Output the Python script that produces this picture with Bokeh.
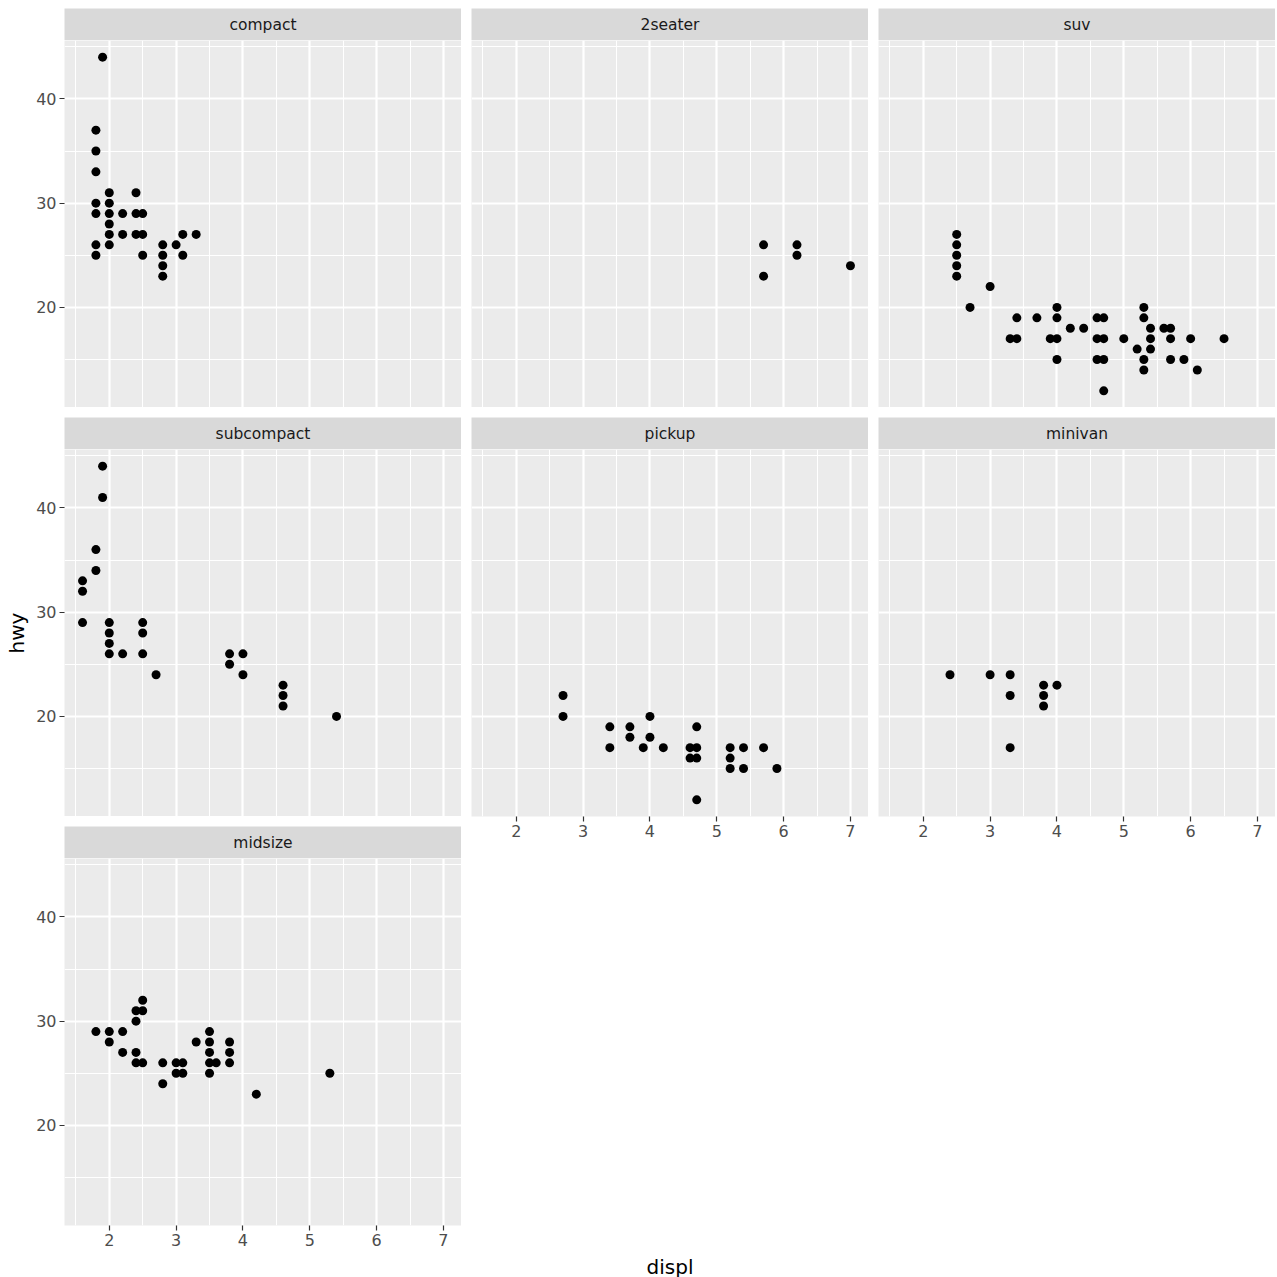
from bokeh.plotting import figure
from bokeh.layouts import row, column
from bokeh.models import Range1d, FixedTicker, Spacer
from bokeh.core.properties import value
from bokeh.embed import file_html
from bokeh.resources import INLINE

# ---------------- data (class facets of displ vs hwy) ----------------
compact_displ = [1.9, 1.8, 1.8, 1.8, 1.8, 1.8, 1.8, 1.8,
                 2.0, 2.0, 2.0, 2.0, 2.0, 2.0, 2.2, 2.2,
                 2.4, 2.4, 2.4, 2.5, 2.5, 2.5,
                 2.8, 2.8, 2.8, 2.8, 3.0, 3.1, 3.1, 3.3]
compact_hwy = [44, 37, 35, 33, 30, 29, 26, 25,
               31, 30, 29, 28, 27, 26, 29, 27,
               31, 29, 27, 29, 27, 25,
               26, 25, 24, 23, 26, 27, 25, 27]

twoseater_displ = [5.7, 5.7, 6.2, 6.2, 7.0]
twoseater_hwy = [26, 23, 26, 25, 24]

suv_displ = [2.5, 2.5, 2.5, 2.5, 2.5, 2.7, 3.0, 3.3, 3.4, 3.4, 3.7,
             3.9, 4.0, 4.0, 4.0, 4.0, 4.2, 4.4,
             4.6, 4.7, 4.6, 4.7, 4.6, 4.7, 4.7, 5.0, 5.2,
             5.3, 5.3, 5.3, 5.3, 5.4, 5.4, 5.4,
             5.6, 5.7, 5.7, 5.7, 5.9, 6.0, 6.1, 6.5]
suv_hwy = [27, 26, 25, 24, 23, 20, 22, 17, 17, 19, 19,
           17, 17, 20, 19, 15, 18, 18,
           19, 19, 17, 17, 15, 15, 12, 17, 16,
           20, 19, 15, 14, 18, 17, 16,
           18, 18, 17, 15, 15, 17, 14, 17]

subcompact_displ = [1.9, 1.9, 1.8, 1.8, 1.6, 1.6, 1.6,
                    2.0, 2.0, 2.0, 2.0, 2.2, 2.5, 2.5, 2.5, 2.7,
                    3.8, 3.8, 4.0, 4.0, 4.6, 4.6, 4.6, 5.4]
subcompact_hwy = [44, 41, 36, 34, 33, 32, 29,
                  29, 28, 27, 26, 26, 29, 28, 26, 24,
                  26, 25, 26, 24, 23, 22, 21, 20]

pickup_displ = [2.7, 2.7, 3.4, 3.4, 3.7, 3.7, 3.9, 4.0, 4.0, 4.2,
                4.6, 4.6, 4.7, 4.7, 4.7, 4.7,
                5.2, 5.2, 5.2, 5.4, 5.4, 5.7, 5.9]
pickup_hwy = [22, 20, 19, 17, 19, 18, 17, 20, 18, 17,
              17, 16, 19, 17, 16, 12,
              17, 16, 15, 17, 15, 17, 15]

minivan_displ = [2.4, 3.0, 3.3, 3.3, 3.3, 3.8, 3.8, 3.8, 4.0]
minivan_hwy = [24, 24, 24, 22, 17, 23, 22, 21, 23]

midsize_displ = [1.8, 2.0, 2.0, 2.2, 2.2, 2.4, 2.4, 2.4, 2.4, 2.5, 2.5, 2.5,
                 2.8, 2.8, 3.0, 3.0, 3.1, 3.1, 3.3,
                 3.5, 3.5, 3.5, 3.5, 3.5, 3.6, 3.8, 3.8, 3.8, 4.2, 5.3]
midsize_hwy = [29, 29, 28, 29, 27, 31, 30, 27, 26, 32, 31, 26,
               26, 24, 26, 25, 26, 25, 28,
               29, 28, 27, 26, 25, 26, 28, 27, 26, 23, 25]

x_ticks = [2, 3, 4, 5, 6, 7]
x_minor = [1.5, 2.5, 3.5, 4.5, 5.5, 6.5]
y_ticks = [20, 30, 40]
y_minor = [15, 25, 35, 45]
x_lim = (1.33, 7.27)
y_lim = (10.4, 45.6)

# ---------------- layout constants ----------------
TOP = 8
PW, PH, SH, GAP, CGAP = 397, 367, 32, 10, 10
YAX, XAXB, YT_W = 32, 26, 32
XT_H = 26
FONT = "DejaVu Sans"


def strip(label, left_pad):
    s = figure(frame_width=PW, frame_height=SH, x_range=Range1d(0, 1), y_range=Range1d(0, 1),
               x_axis_location=None, y_axis_location=None, toolbar_location=None,
               output_backend="svg", min_border_left=left_pad, min_border_right=0,
               min_border_top=0, min_border_bottom=0, background_fill_color="#D9D9D9",
               border_fill_color="white", outline_line_color=None)
    s.xgrid.visible = False
    s.ygrid.visible = False
    s.text(x=[0.5], y=[0.5], text=[label], text_align="center", text_baseline="middle",
           text_font=value(FONT), text_font_size="15.5px", text_color="#1A1A1A")
    return s


def panel(xs, ys, left_axis, bottom_axis):
    p = figure(frame_width=PW, frame_height=PH, x_range=Range1d(*x_lim), y_range=Range1d(*y_lim),
               x_axis_location="below" if bottom_axis else None,
               y_axis_location="left" if left_axis else None,
               toolbar_location=None, output_backend="svg",
               min_border_left=YAX if left_axis else 0, min_border_right=0, min_border_top=0,
               min_border_bottom=XAXB if bottom_axis else 0,
               background_fill_color="#EBEBEB", border_fill_color="white", outline_line_color=None)
    p.xgrid.ticker = FixedTicker(ticks=x_ticks, minor_ticks=x_minor)
    p.ygrid.ticker = FixedTicker(ticks=y_ticks, minor_ticks=y_minor)
    for g in (p.xgrid, p.ygrid):
        g.grid_line_color = "white"
        g.grid_line_width = 2.2
        g.minor_grid_line_color = "white"
        g.minor_grid_line_width = 1.1
    axes = []
    if bottom_axis:
        p.xaxis.ticker = FixedTicker(ticks=x_ticks)
        axes.append(p.xaxis)
    if left_axis:
        p.yaxis.ticker = FixedTicker(ticks=y_ticks)
        axes.append(p.yaxis)
    for ax in axes:
        ax.axis_line_color = None
        ax.major_tick_line_color = "#333333"
        ax.major_tick_line_width = 1.2
        ax.major_tick_out = 5
        ax.major_tick_in = 0
        ax.minor_tick_line_color = None
        ax.major_label_text_font = FONT
        ax.major_label_text_font_size = "16px"
        ax.major_label_text_color = "#4D4D4D"
        ax.major_label_standoff = 3
    p.scatter(x=xs, y=ys, size=9, color="black", line_width=0)
    return p


def cell(label, xs, ys, left_axis, bottom_axis):
    return column(strip(label, YAX if left_axis else 0),
                  panel(xs, ys, left_axis, bottom_axis), spacing=0)


col1 = column(cell("compact", compact_displ, compact_hwy, True, False),
              cell("subcompact", subcompact_displ, subcompact_hwy, True, False),
              cell("midsize", midsize_displ, midsize_hwy, True, True), spacing=GAP)
col2 = column(cell("2seater", twoseater_displ, twoseater_hwy, False, False),
              cell("pickup", pickup_displ, pickup_hwy, False, True), spacing=GAP)
col3 = column(cell("suv", suv_displ, suv_hwy, False, False),
              cell("minivan", minivan_displ, minivan_hwy, False, True), spacing=GAP)

grid_h = 3 * (SH + PH) + 2 * GAP + XAXB
panels_mid_y = (SH + (3 * (SH + PH) + 2 * GAP)) / 2.0

yt = figure(width=YT_W, height=grid_h, x_range=Range1d(0, YT_W), y_range=Range1d(0, grid_h),
            x_axis_location=None, y_axis_location=None, toolbar_location=None,
            output_backend="svg", min_border=0, outline_line_color=None,
            background_fill_color="white", border_fill_color="white")
yt.xgrid.visible = False
yt.ygrid.visible = False
yt.text(x=[16], y=[grid_h - panels_mid_y], text=["hwy"], angle=1.5707963,
        text_align="center", text_baseline="middle", text_font=value(FONT),
        text_font_size="20px", text_color="black")

total_w = YT_W + YAX + 3 * PW + 2 * CGAP
xt = figure(width=total_w, height=XT_H, x_range=Range1d(0, total_w), y_range=Range1d(0, XT_H),
            x_axis_location=None, y_axis_location=None, toolbar_location=None,
            output_backend="svg", min_border=0, outline_line_color=None,
            background_fill_color="white", border_fill_color="white")
xt.xgrid.visible = False
xt.ygrid.visible = False
xt.text(x=[YT_W + YAX + (3 * PW + 2 * CGAP) / 2.0], y=[XT_H - 15], text=["displ"],
        text_align="center", text_baseline="middle", text_font=value(FONT),
        text_font_size="20px", text_color="black")

layout = column(Spacer(width=total_w, height=TOP),
                row(yt, row(col1, col2, col3, spacing=CGAP), spacing=0),
                xt, spacing=0)

open("out.html", "w").write(file_html(layout, INLINE))
